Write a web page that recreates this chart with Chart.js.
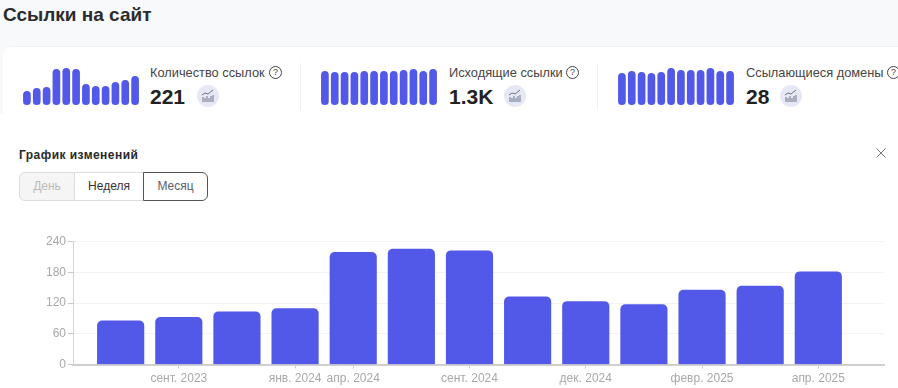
<!DOCTYPE html>
<html lang="ru">
<head>
<meta charset="utf-8">
<title>Ссылки на сайт</title>
<script src="https://cdn.jsdelivr.net/npm/chart.js@4"></script>
<style>
    html, body { margin: 0; padding: 0; }
    body { width: 898px; height: 388px; overflow: hidden; position: relative; background: #fff; font-family: "Liberation Sans", Arial, sans-serif; color: #222; }
    .abs { position: absolute; white-space: nowrap; }
    #top-bg { left: 0; top: 0; width: 898px; height: 114px; background: #f8f9fb; }
    #card { left: 3px; top: 46px; width: 895px; height: 68px; background: #fff; border-top-left-radius: 8px; border-top: 1px solid #f0f1f4; box-sizing: border-box; }
    #page-title { left: 3px; top: 4px; font-size: 19px; font-weight: bold; line-height: 22px; color: #2b2b2b; }
    .divider { top: 63px; width: 1px; height: 47px; background: #f0f0f2; }
    .stat-label { top: 65px; font-size: 12.8px; line-height: 15px; color: #444; }
    .stat-value { top: 84px; font-size: 21px; line-height: 25px; font-weight: bold; color: #222; }
    .help { top: 66px; width: 11px; height: 11px; border: 1px solid #444; border-radius: 50%; font-size: 9px; line-height: 11px; text-align: center; color: #444; }
    .icon { top: 85px; width: 22px; height: 22px; border-radius: 50%; background: #e6e8f5; }
    .icon svg { display: block; margin: 4px; }
    #modal-title { left: 19px; top: 148px; font-size: 12px; line-height: 14px; font-weight: bold; letter-spacing: 0.45px; color: #2a2a2a; }
    #close { left: 875px; top: 145px; width: 12px; height: 12px; }
    .btn { top: 172px; height: 29px; box-sizing: border-box; font-size: 12px; line-height: 27px; text-align: center; border: 1px solid #dcdcdc; }
    #btn-day { left: 19px; width: 56px; background: #f5f5f5; color: #bbb; border-radius: 6px 0 0 6px; }
    #btn-week { left: 74px; width: 70px; color: #333; background: #fff; }
    #btn-month { left: 143px; width: 65px; color: #5a6072; background: #fff; border: 1px solid #555; border-radius: 0 6px 6px 0; }
    canvas { position: absolute; }
</style>
</head>
<body>
<div id="top-bg" class="abs"></div>
<div id="card" class="abs"></div>
<div id="page-title" class="abs">Ссылки на сайт</div>

<canvas id="spark1" width="118" height="40" style="left:22px;top:65px"></canvas>
<div class="abs stat-label" style="left:150px">Количество ссылок</div>
<div class="abs help" style="left:269px">?</div>
<div class="abs stat-value" style="left:150px">221</div>
<div class="abs icon" style="left:197px"></div>
<div class="abs divider" style="left:300px"></div>

<canvas id="spark2" width="118" height="40" style="left:320px;top:65px"></canvas>
<div class="abs stat-label" style="left:449px">Исходящие ссылки</div>
<div class="abs help" style="left:566px">?</div>
<div class="abs stat-value" style="left:449px">1.3K</div>
<div class="abs icon" style="left:504px"></div>
<div class="abs divider" style="left:597px"></div>

<canvas id="spark3" width="118" height="40" style="left:617px;top:65px"></canvas>
<div class="abs stat-label" style="left:746px">Ссылающиеся домены</div>
<div class="abs help" style="left:887px">?</div>
<div class="abs stat-value" style="left:746px">28</div>
<div class="abs icon" style="left:780px"></div>

<div id="modal-title" class="abs">График изменений</div>
<div id="close" class="abs">
    <svg width="12" height="12" viewBox="0 0 12 12"><path d="M1.5 1.5 L10.5 10.5 M10.5 1.5 L1.5 10.5" stroke="#777" stroke-width="1" fill="none"/></svg>
</div>
<div id="btn-day" class="abs btn">День</div>
<div id="btn-week" class="abs btn">Неделя</div>
<div id="btn-month" class="abs btn">Месяц</div>

<canvas id="mainChart" width="898" height="158" style="left:0;top:230px"></canvas>

<script>
const BAR_COLOR = '#5258e8';

// main chart
const values = [85, 92, 103, 109, 219, 225, 222, 132, 123, 117, 145, 153, 181];
const tickPositions = [1, 3, 4, 6, 8, 10, 12];
const tickLabels = ['сент. 2023', 'янв. 2024', 'апр. 2024', 'сент. 2024', 'дек. 2024', 'февр. 2025', 'апр. 2025'];
const yTicks = [0, 60, 120, 180, 240];

// small charts above
const sparkLinks = [14, 17, 18, 36, 37, 36, 21, 19, 19, 23, 25, 29];
const sparkOutgoing = [34, 33, 33, 33, 34, 34, 34, 34, 35, 36, 34, 36];
const sparkDomains = [32, 34, 33, 32, 33, 37, 35, 35, 35, 37, 34, 34];

function drawSpark(id, data) {
    new Chart(document.getElementById(id), {
        type: 'bar',
        data: {
            labels: data.map((v, i) => i),
            datasets: [{
                data: data,
                backgroundColor: BAR_COLOR,
                borderRadius: 4,
                borderSkipped: false,
                categoryPercentage: 1,
                barPercentage: 0.78
            }]
        },
        options: {
            responsive: false,
            animation: false,
            plugins: { legend: { display: false }, tooltip: { enabled: false } },
            layout: { padding: 0 },
            scales: {
                x: { display: false },
                y: { display: false, min: 0, max: 40 }
            }
        }
    });
}

drawSpark('spark1', sparkLinks);
drawSpark('spark2', sparkOutgoing);
drawSpark('spark3', sparkDomains);

// little chart icon inside the circles
document.querySelectorAll('.icon').forEach(function(el) {
    el.innerHTML = '<svg width="14" height="14" viewBox="0 0 14 14" fill="none" stroke="#6f7486" stroke-width="1">' +
        '<path d="M1 6 L4 4 L7 5 L12 1"/>' +
        '<path d="M2 13V8 M4 13V9 M6 13V7 M8 13V9 M10 13V7 M12 13V6"/></svg>';
});

new Chart(document.getElementById('mainChart'), {
    type: 'bar',
    data: {
        datasets: [{
            data: values.map((v, i) => ({ x: i, y: v })),
            backgroundColor: BAR_COLOR,
            borderRadius: { topLeft: 5, topRight: 5, bottomLeft: 0, bottomRight: 0 },
            borderSkipped: false,
            barThickness: 46.5
        }]
    },
    options: {
        responsive: false,
        animation: false,
        plugins: { legend: { display: false }, tooltip: { enabled: false } },
        layout: { padding: { top: 11.5, right: 14, left: 0, bottom: 0 } },
        scales: {
            x: {
                type: 'linear',
                offset: false,
                min: -0.82,
                max: 13.13,
                afterBuildTicks: function(scale) {
                    scale.ticks = tickPositions.map(p => ({ value: p }));
                },
                afterFit: function(scale) { scale.height = 23.5; },
                grid: { offset: false, drawOnChartArea: false, tickColor: '#c8c8c8', tickLength: 4 },
                border: { color: '#cfcfcf', width: 2 },
                ticks: {
                    autoSkip: false,
                    maxRotation: 0,
                    padding: 3,
                    color: '#a8a8a8',
                    font: { family: '"Liberation Sans", Arial, sans-serif', size: 12 },
                    callback: function(v) { return tickLabels[tickPositions.indexOf(v)]; }
                }
            },
            y: {
                min: 0,
                max: 240,
                afterBuildTicks: function(scale) {
                    scale.ticks = yTicks.map(v => ({ value: v }));
                },
                afterFit: function(scale) { scale.width = 73; },
                grid: { color: '#f3f3f3', tickColor: '#c8c8c8', tickLength: 5 },
                border: { color: '#d4d4d4', width: 1 },
                ticks: {
                    padding: 2,
                    color: '#a8a8a8',
                    font: { family: '"Liberation Sans", Arial, sans-serif', size: 12 }
                }
            }
        }
    }
});
</script>
</body>
</html>
